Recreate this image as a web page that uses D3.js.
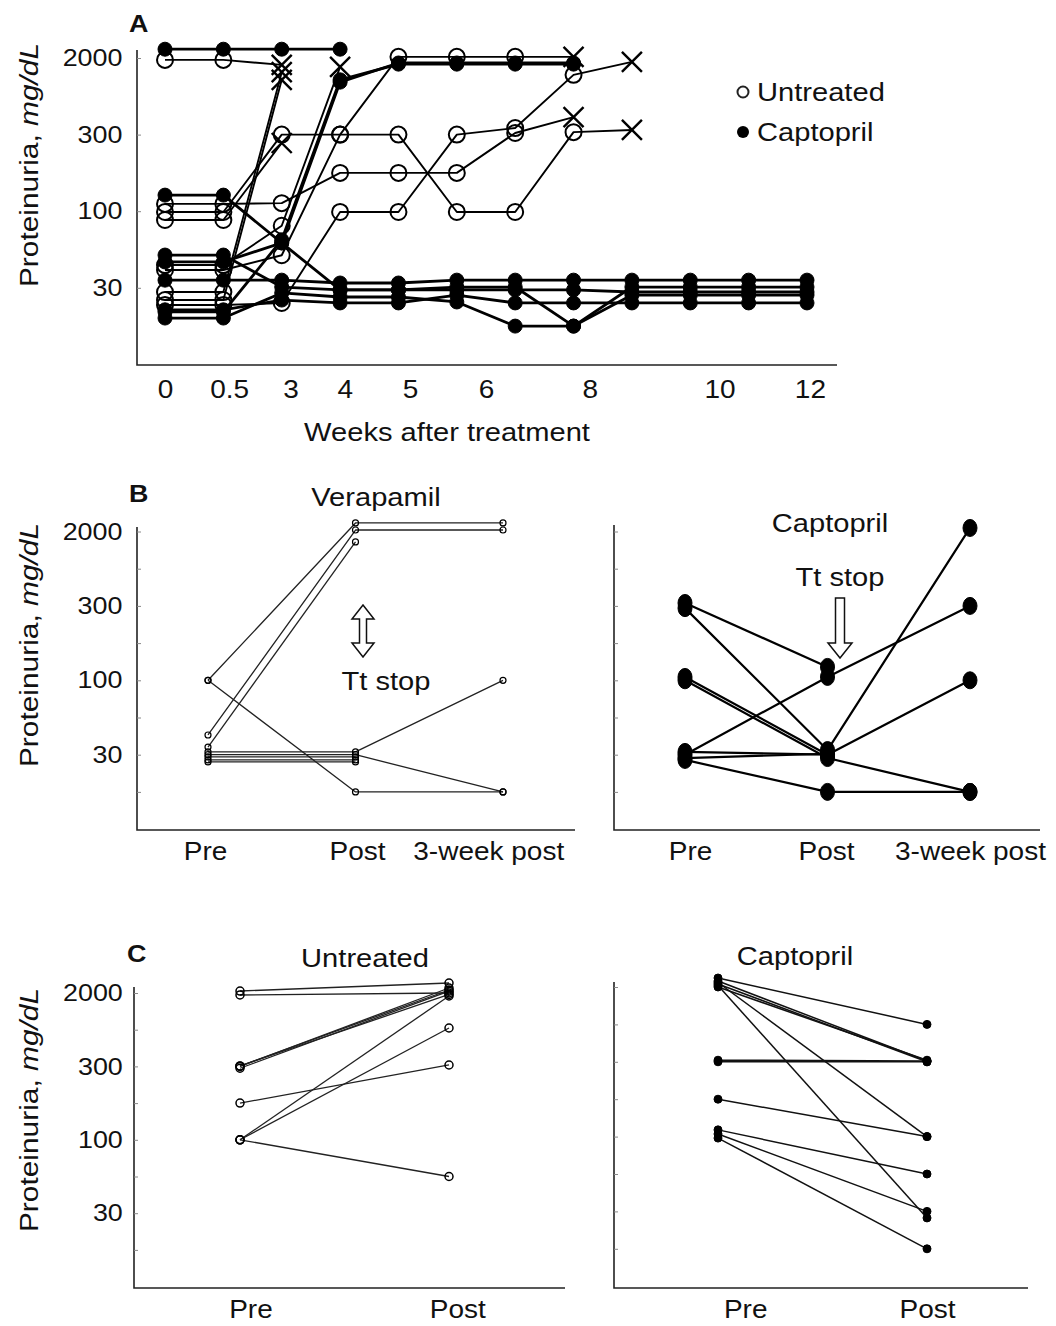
<!DOCTYPE html>
<html>
<head>
<meta charset="utf-8">
<script src="https://cdnjs.cloudflare.com/ajax/libs/d3/7.8.5/d3.min.js"></script>
<style>
  body { margin: 0; background: #fff; }
  svg text { font-family: "Liberation Sans", Arial, Helvetica, sans-serif; fill: #111; }
</style>
</head>
<body>
<svg id="fig" width="1056" height="1326"></svg>
<script>
// proteinuria steps on the y axes (mg/dL), evenly spaced in the figure
var levels = [10, 30, 50, 100, 200, 300, 1000, 2000];
var labelledLevels = [30, 100, 300, 2000];

// panel A: one value per visit, visits are evenly spaced
var weekLabels = ["0", "0.5", "3", "4", "5", "6", "8", "10", "12"];
var weekLabelPos = [0, 1.1, 2.15, 3.08, 4.2, 5.5, 7.28, 9.5, 11.05]; // in visit units
// untreated: last point of every series is a death (X)
var untreatedA = [
  [1950, 1950, 1820],
  [27.8, 27.8, 1630],
  [23.6, 23.6, 1430],
  [88.5, 88.5, 278],
  [99, 99, 300, 300, 2030, 2030, 2030, 2030],
  [119, 119, 121, 200, 200, 200, 330, 620],
  [21, 21, 22.1, 99, 99, 300, 420, 1560, 1900],
  [39.3, 39.3, 47, 300, 300, 99, 99, 345, 385],
  [41.9, 41.9, 81, 1770]
];
var captoprilA = [
  [2230, 2230, 2230, 2230],
  [142, 142, 58.6, 28.9, 28.9, 28.9, 28.9, 28.9, 27.8, 27.8, 27.8, 27.8],
  [43.5, 43.5, 58.6, 1370, 1870, 1870, 1870, 1870],
  [17.4, 17.4, 62.5, 1430, 1840, 1840, 1840, 1840],
  [34, 34, 34, 32.5, 32.5, 34, 34, 34, 34, 34, 34, 34],
  [47.1, 47.1, 30.4, 28.9, 28.9, 30.4, 30.4, 10, 26.2, 26.2, 26.2, 26.2],
  [14.2, 14.2, 27.3, 25.2, 25.2, 22.6, 10, 10, 30.4, 30.4, 30.4, 30.4],
  [18.5, 18.5, 23.6, 22.1, 22.1, 26.2, 22.1, 22.1, 22.1, 22.1, 22.1, 22.1]
];

// panel B: Pre, Post, 3-week post
var phaseLabels = ["Pre", "Post", "3-week post"];
var verapamilB = [
  [100, 2230, 2230],
  [100, 10, 10],
  [40.6, 2040, 2040],
  [34.1, 1720],
  [31.5, 31.5, 100],
  [30, 30, 10],
  [28.8, 28.8],
  [27.2, 27.2],
  [26.1, 26.1]
];
var captoprilB = [
  [355, 136],
  [294, 32.5, 2095],
  [109, 30, 100],
  [100, 28.2, 10],
  [30, 109, 300],
  [28.2, 30.5],
  [31.5, 30],
  [27.2, 10, 10]
];

// panel C: Pre, Post
var untreatedC = [
  [2054, 2272], [1946, 2000], [300, 2136], [305, 2082], [310, 1960],
  [295, 2050], [200, 327], [100, 1918], [100, 1046], [100, 50]
];
var captoprilC = [
  [2241, 1000], [2160, 315], [2080, 300], [2000, 330], [2120, 100], [2040, 26.5],
  [330, 315], [300, 300], [200, 100], [118, 50], [107, 30], [98, 10]
];

var svg = d3.select("#fig");
var SX = 1.12; // the figure's lettering is a little wide

function txt(g, x, y, s, size, anchor, weight) {
  return g.append("text")
    .attr("transform", "translate(" + x + "," + y + ") scale(" + SX + ",1)")
    .attr("text-anchor", anchor || "middle")
    .attr("font-size", size)
    .attr("font-weight", weight || "normal")
    .text(s);
}

function yTitle(g, x, y) {
  var t = g.append("text")
    .attr("transform", "translate(" + x + "," + y + ") rotate(-90) scale(1.15,1)")
    .attr("text-anchor", "middle")
    .attr("font-size", 26);
  t.append("tspan").text("Proteinuria, ");
  t.append("tspan").attr("font-style", "italic").text("mg/dL");
}

function makeY(bottom, step) {
  return d3.scaleLinear()
    .domain(levels)
    .range(levels.map((d, i) => bottom - i * step));
}

function frame(g, x0, top, bottom, right) {
  g.append("path")
    .attr("d", "M" + x0 + "," + top + "V" + bottom + "H" + right)
    .attr("fill", "none")
    .attr("stroke", "#222")
    .attr("stroke-width", 1.6);
}

function yAxis(g, y, x0, ticks, pad, showLabels) {
  g.append("g")
      .attr("transform", "translate(" + x0 + ",0)")
      .call(d3.axisLeft(y)
              .tickValues(ticks)
              .tickSize(-4)
              .tickPadding(pad)
              .tickFormat(d => showLabels && labelledLevels.includes(d) ? d : ""))
      .call(a => {
        a.select(".domain").remove();
        a.selectAll("line").attr("stroke", "#888");
        a.selectAll("text")
          .attr("font-size", 24)
          .attr("fill", "#111")
          .attr("transform", "scale(" + SX + ",1)");
      });
}

function xAxis(g, x, bottom, pos, labels, pad) {
  g.append("g")
      .attr("transform", "translate(0," + bottom + ")")
      .call(d3.axisBottom(x)
              .tickValues(pos)
              .tickSize(0)
              .tickPadding(pad)
              .tickFormat((d, i) => labels[i]))
      .call(a => {
        a.select(".domain").remove();
        a.selectAll("text")
          .attr("font-size", 25)
          .attr("fill", "#111")
          .attr("transform", "scale(" + SX + ",1)");
      });
}

// lines + markers for a set of series; st.marker: "open" | "filled"
function plotSeries(g, data, x, y, st) {
  var line = d3.line().x((d, i) => x(i)).y(d => y(d));
  g.append("g").selectAll("path")
    .data(data)
    .join("path")
      .attr("d", line)
      .attr("fill", "none")
      .attr("stroke", st.stroke || "#000")
      .attr("stroke-width", st.width)
      .attr("stroke-linejoin", "round");

  var pts = [];
  data.forEach(s => s.forEach((v, i) => {
    pts.push({ i: i, v: v, last: i === s.length - 1 });
  }));
  var mk = g.append("g");
  pts.forEach(p => {
    var cx = x(p.i), cy = y(p.v);
    if (st.xEnd && p.last) {
      var s = st.xSize;
      mk.append("path")
        .attr("d", "M" + (cx - s) + "," + (cy - s) + "L" + (cx + s) + "," + (cy + s) +
                   "M" + (cx - s) + "," + (cy + s) + "L" + (cx + s) + "," + (cy - s))
        .attr("stroke", "#000")
        .attr("stroke-width", 2.4);
    } else {
      mk.append("ellipse")
        .attr("cx", cx).attr("cy", cy)
        .attr("rx", st.rx).attr("ry", st.ry || st.rx)
        .attr("fill", st.marker === "filled" ? "#000" : "none")
        .attr("stroke", "#000")
        .attr("stroke-width", st.marker === "filled" ? 1 : st.mw);
    }
  });
}

// ---------------- panel A ----------------
var gA = svg.append("g");
var xA = d3.scaleLinear().domain([0, 11]).range([165, 807]);
var yA = makeY(326.1, 38.3);

frame(gA, 137, 50, 365, 837);
yAxis(gA, yA, 137, labelledLevels, 13, true);
xAxis(gA, xA, 365, weekLabelPos, weekLabels, 15);
txt(gA, 447, 441, "Weeks after treatment", 26);
yTitle(gA, 38, 165);
txt(gA, 129, 32, "A", 24, "start", "bold");

plotSeries(gA, captoprilA, xA, yA, { width: 2.8, marker: "filled", rx: 7 });
plotSeries(gA, untreatedA, xA, yA, { width: 1.9, marker: "open", rx: 8, mw: 2, xEnd: true, xSize: 10 });

// legend
var leg = gA.append("g");
leg.append("circle").attr("cx", 743).attr("cy", 92).attr("r", 5.5)
  .attr("fill", "#fff").attr("stroke", "#222").attr("stroke-width", 2);
txt(leg, 757, 101, "Untreated", 26, "start");
leg.append("circle").attr("cx", 743).attr("cy", 132).attr("r", 6).attr("fill", "#000");
txt(leg, 757, 141, "Captopril", 26, "start");

// ---------------- panel B ----------------
var gB = svg.append("g");
var yB = makeY(791.9, 37.2);

// left: verapamil
var xBL = d3.scaleLinear().domain([0, 2]).range([208, 503]);
frame(gB, 137, 527, 830, 575);
yAxis(gB, yB, 137, levels, 13, true);
xAxis(gB, xBL, 830, [-0.02, 1.01, 1.9], phaseLabels, 12);
yTitle(gB, 38, 645);
txt(gB, 129, 502, "B", 24, "start", "bold");
txt(gB, 376, 506, "Verapamil", 26);
txt(gB, 386, 690, "Tt stop", 26);
plotSeries(gB, verapamilB, xBL, yB, { width: 1.3, stroke: "#222", marker: "open", rx: 3, mw: 1.2 });

// hollow double arrow
(function (cx, y0, y1) {
  var hw = 11, sw = 3.5, hh = 14;
  gB.append("path")
    .attr("d", "M" + cx + "," + y0 + "L" + (cx + hw) + "," + (y0 + hh) + "L" + (cx + sw) + "," + (y0 + hh) +
               "L" + (cx + sw) + "," + (y1 - hh) + "L" + (cx + hw) + "," + (y1 - hh) + "L" + cx + "," + y1 +
               "L" + (cx - hw) + "," + (y1 - hh) + "L" + (cx - sw) + "," + (y1 - hh) +
               "L" + (cx - sw) + "," + (y0 + hh) + "L" + (cx - hw) + "," + (y0 + hh) + "Z")
    .attr("fill", "#fff").attr("stroke", "#111").attr("stroke-width", 1.5);
})(363, 605, 657);

// right: captopril
var xBR = d3.scaleLinear().domain([0, 2]).range([685, 970]);
frame(gB, 614, 525, 830, 1040);
yAxis(gB, yB, 614, levels, 13, false);
xAxis(gB, xBR, 830, [0.035, 0.99, 2.0], phaseLabels, 12);
txt(gB, 830, 532, "Captopril", 26);
txt(gB, 840, 586, "Tt stop", 26);
plotSeries(gB, captoprilB, xBR, yB, { width: 2.2, marker: "filled", rx: 7, ry: 8.5 });

// hollow down arrow
(function (cx, y0, y1) {
  var hw = 12, sw = 4.5, hh = 15;
  gB.append("path")
    .attr("d", "M" + (cx - sw) + "," + y0 + "L" + (cx + sw) + "," + y0 + "L" + (cx + sw) + "," + (y1 - hh) +
               "L" + (cx + hw) + "," + (y1 - hh) + "L" + cx + "," + y1 + "L" + (cx - hw) + "," + (y1 - hh) +
               "L" + (cx - sw) + "," + (y1 - hh) + "Z")
    .attr("fill", "#fff").attr("stroke", "#111").attr("stroke-width", 1.5);
})(840, 598, 658);

// ---------------- panel C ----------------
var gC = svg.append("g");

// left: untreated
var xCL = d3.scaleLinear().domain([0, 1]).range([240, 449]);
var yCL = makeY(1249.9, 36.7);
frame(gC, 134, 987, 1288, 565);
yAxis(gC, yCL, 134, levels, 10, true);
xAxis(gC, xCL, 1288, [0.05, 1.04], phaseLabels, 12);
yTitle(gC, 38, 1110);
txt(gC, 127, 962, "C", 24, "start", "bold");
txt(gC, 365, 967, "Untreated", 26);
plotSeries(gC, untreatedC, xCL, yCL, { width: 1.3, stroke: "#222", marker: "open", rx: 4, mw: 1.5 });

// right: captopril
var xCR = d3.scaleLinear().domain([0, 1]).range([718, 927]);
var yCR = makeY(1248.8, 37.4);
frame(gC, 614, 982, 1288, 1028);
yAxis(gC, yCR, 614, levels, 10, false);
xAxis(gC, xCR, 1288, [0.13, 1.0], phaseLabels, 12);
txt(gC, 795, 965, "Captopril", 26);
plotSeries(gC, captoprilC, xCR, yCR, { width: 1.5, stroke: "#111", marker: "filled", rx: 4 });
</script>
</body>
</html>
